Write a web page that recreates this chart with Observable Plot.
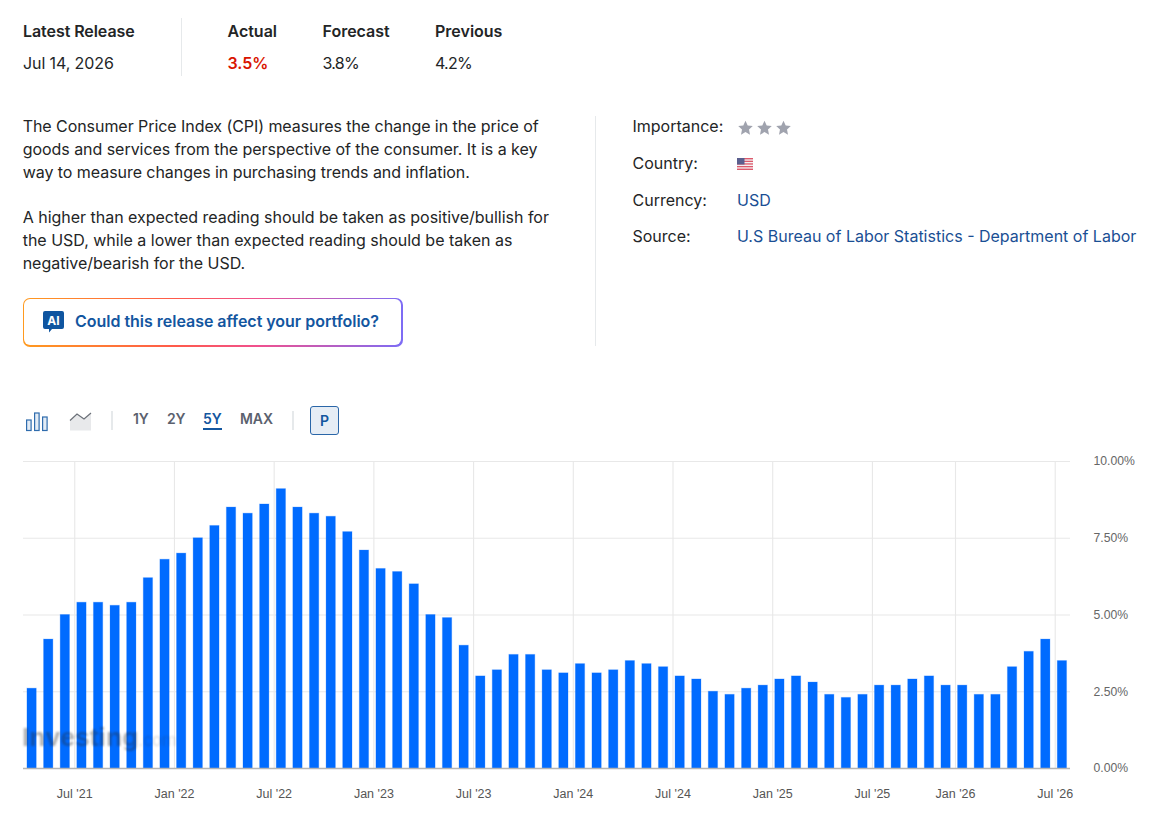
<!DOCTYPE html>
<html><head><meta charset="utf-8">
<script src="https://cdn.jsdelivr.net/npm/d3@7"></script>
<script src="https://cdn.jsdelivr.net/npm/@observablehq/plot@0.6"></script>
<style>
html,body{margin:0;padding:0;background:#fff;width:1155px;height:817px;overflow:hidden}
body{position:relative;font-family:Inter,"Noto Sans",sans-serif;font-size:16px;color:#232526}
.t{position:absolute;white-space:nowrap;line-height:24px}
.b{font-weight:600}
.link{color:#1a4f94}
.tb{position:absolute;white-space:nowrap;font-size:14px;font-weight:600;line-height:20px;color:#5b616e;top:409px;letter-spacing:-.1px}
.div{position:absolute;background:#e6e9eb}
#chart{position:absolute;left:0;top:440px}
#chart svg{display:block}
#wm{position:absolute;left:22px;top:719px;font-family:"Liberation Sans",Arial,sans-serif;font-weight:700;font-size:26.5px;line-height:36px;color:rgba(40,40,40,.36);filter:blur(1px);white-space:nowrap;pointer-events:none}
#wm span{font-weight:400;font-size:17.5px;color:rgba(40,40,40,.16)}
#btn{position:absolute;left:23px;top:298px;width:379.5px;height:48.5px;box-sizing:border-box;border-radius:7px;padding:1.2px;background:linear-gradient(90deg,#ff9a1f 0%,#ff5a4a 40%,#f0508f 62%,#7d6cf5 100%)}
#btn div{width:100%;height:100%;background:#fff;border-radius:6px}
</style></head><body>
<div class="t b" style="left:23px;top:19px;letter-spacing:-.07px">Latest Release</div>
<div class="t" style="left:23px;top:51px;letter-spacing:-.1px">Jul 14, 2026</div>
<div class="div" style="left:181px;top:18px;width:1px;height:58px"></div>
<div class="t b" style="left:227.5px;top:19px">Actual</div>
<div class="t b" style="left:227.5px;top:51px;color:#d91400">3.5%</div>
<div class="t b" style="left:322.5px;top:19px">Forecast</div>
<div class="t" style="left:322.5px;top:51px;letter-spacing:-.7px">3.8%</div>
<div class="t b" style="left:435px;top:19px">Previous</div>
<div class="t" style="left:435px;top:51px;letter-spacing:-.7px">4.2%</div>

<div class="t" style="left:22.7px;top:114px;letter-spacing:-.06px">The Consumer Price Index (CPI) measures the change in the price of</div>
<div class="t" style="left:22.7px;top:137px;letter-spacing:-.045px">goods and services from the perspective of the consumer. It is a key</div>
<div class="t" style="left:22.7px;top:160px;letter-spacing:-.055px">way to measure changes in purchasing trends and inflation.</div>
<div class="t" style="left:22.7px;top:205px;letter-spacing:-.02px">A higher than expected reading should be taken as positive/bullish for</div>
<div class="t" style="left:22.7px;top:228px;letter-spacing:-.01px">the USD, while a lower than expected reading should be taken as</div>
<div class="t" style="left:22.7px;top:251px;letter-spacing:-.02px">negative/bearish for the USD.</div>

<div id="btn"><div></div></div>
<svg style="position:absolute;left:43px;top:311px" width="21" height="22" viewBox="0 0 21 22"><path d="M2 0h17a2 2 0 0 1 2 2v14a2 2 0 0 1-2 2H9l-3 3.5V18H2a2 2 0 0 1-2-2V2a2 2 0 0 1 2-2z" fill="#0f55a0"/><text x="10.5" y="14" text-anchor="middle" font-family="Inter" font-weight="700" font-size="12" fill="#fff">AI</text></svg>
<div class="t" style="left:75px;top:309px;font-weight:600;color:#13569f;letter-spacing:-.02px">Could this release affect your portfolio?</div>

<div class="div" style="left:595px;top:116px;width:1px;height:230px"></div>
<div class="t" style="left:632.5px;top:114px">Importance:</div>
<svg style="position:absolute;left:738px;top:120px" width="54" height="16" viewBox="0 0 54 16" fill="#a0a3ae"><path id="s" d="M7.5 .8l2.2 4.7 5.1 .6-3.8 3.5 1 5.1-4.5-2.6-4.5 2.6 1-5.1L.2 6.100l5.100-.6z"/><use href="#s" x="19"/><use href="#s" x="38"/></svg>
<div class="t" style="left:632.5px;top:151px">Country:</div>
<svg style="position:absolute;left:737px;top:158px" width="16" height="12" viewBox="0 0 16 12"><rect width="16" height="12" fill="#f4f0f2"/><g fill="#dc5a6c"><rect width="16" height="1.4"/><rect y="2.7" width="16" height="1.300"/><rect y="5.3" width="16" height="1.300"/><rect y="8" width="16" height="1.300"/><rect y="10.600" width="16" height="1.400"/></g><rect width="7.500" height="6.500" fill="#5a5f8e"/></svg>
<div class="t" style="left:632.5px;top:188px">Currency:</div>
<div class="t link" style="left:737px;top:188px">USD</div>
<div class="t" style="left:632.5px;top:224px">Source:</div>
<div class="t link" style="left:737px;top:224px">U.S Bureau of Labor Statistics - Department of Labor</div>

<svg style="position:absolute;left:25px;top:411px" width="24" height="21" viewBox="0 0 24 21" fill="#e3ecf5" stroke="#2f6cad" stroke-width="1.200"><rect x="1.600" y="9" width="4.500" height="10.500"/><rect x="9.600" y="2" width="4.500" height="17.500"/><rect x="17.600" y="6" width="4.500" height="13.500"/></svg>
<svg style="position:absolute;left:69px;top:411px" width="23" height="21" viewBox="0 0 23 21"><path d="M1 9.500L8 3l7 5 7-6v17.500H1z" fill="#e8e9eb"/><path d="M1 9.500L8 3l7 5 7-6" fill="none" stroke="#6b7078" stroke-width="1.200"/></svg>
<div class="div" style="left:111px;top:411px;width:2px;height:19px"></div>
<div class="tb" style="left:133px">1Y</div>
<div class="tb" style="left:167px">2Y</div>
<div class="tb" style="left:203px;color:#13569f;">5Y</div>
<div class="div" style="left:203px;top:428px;width:19px;height:1.500px;background:#13569f"></div>
<div class="tb" style="left:240px">MAX</div>
<div class="div" style="left:292px;top:411px;width:2px;height:19px"></div>
<div class="tb" style="left:310px;top:406px;width:29px;height:29px;line-height:27px;box-sizing:border-box;text-align:center;background:#e6edf5;border:1.500px solid #2a66a8;border-radius:3px;color:#13569f">P</div>

<div id="chart"></div>
<div id="wm">Investing<span>.com</span></div>

<script>
// Release month of each bar (October 2025 had no release)
const months = ["Apr '21","May '21","Jun '21","Jul '21","Aug '21","Sep '21","Oct '21","Nov '21","Dec '21",
"Jan '22","Feb '22","Mar '22","Apr '22","May '22","Jun '22","Jul '22","Aug '22","Sep '22","Oct '22","Nov '22","Dec '22",
"Jan '23","Feb '23","Mar '23","Apr '23","May '23","Jun '23","Jul '23","Aug '23","Sep '23","Oct '23","Nov '23","Dec '23",
"Jan '24","Feb '24","Mar '24","Apr '24","May '24","Jun '24","Jul '24","Aug '24","Sep '24","Oct '24","Nov '24","Dec '24",
"Jan '25","Feb '25","Mar '25","Apr '25","May '25","Jun '25","Jul '25","Aug '25","Sep '25","Nov '25","Dec '25",
"Jan '26","Feb '26","Mar '26","Apr '26","May '26","Jun '26","Jul '26"];
const cpi = [2.6,4.2,5.0,5.4,5.4,5.3,5.4,6.2,6.8,
7.0,7.5,7.9,8.5,8.3,8.6,9.1,8.5,8.3,8.2,7.7,7.1,
6.5,6.4,6.0,5.0,4.9,4.0,3.0,3.2,3.7,3.7,3.2,3.1,
3.4,3.1,3.2,3.5,3.4,3.3,3.0,2.9,2.5,2.4,2.6,2.7,
2.9,3.0,2.8,2.4,2.3,2.4,2.7,2.7,2.9,3.0,2.7,
2.7,2.4,2.4,3.3,3.8,4.2,3.5];
const xLabels = ["Jul '21","Jan '22","Jul '22","Jan '23","Jul '23","Jan '24","Jul '24","Jan '25","Jul '25","Jan '26","Jul '26"];
const yTicks = [0,2.5,5,7.5,10];

const rows = months.map((m,i)=>({m,i,v:cpi[i]}));
const xTicks = xLabels.map(l=>months.indexOf(l));
const grid = "#e8e8e8";
const plot = Plot.plot({
  width:1155,height:377,marginLeft:23,marginRight:85,marginTop:21,marginBottom:49,
  style:{fontFamily:"'Liberation Sans',Arial,sans-serif",fontSize:"12px",background:"#fff",overflow:"visible"},
  x:{type:"linear",domain:[-0.084,62.92],label:null},
  y:{domain:[0,10],label:null},
  marks:[
    Plot.ruleY(yTicks.filter(d=>d>0),{stroke:grid,strokeWidth:1.1}),
    Plot.ruleX(xTicks,{y1:0,y2:10,stroke:grid,strokeWidth:1.1}),
    Plot.rect(rows,{x1:"i",x2:d=>d.i+1,y1:0,y2:"v",fill:"#006bff",insetLeft:2.55,insetRight:4.77,stroke:"#006bff",strokeOpacity:.25,strokeWidth:1}),
    Plot.ruleY([0],{stroke:"#b4b4b4",strokeWidth:1.6}),
    Plot.axisX({ticks:xTicks,tickSize:0,tickPadding:21,tickFormat:i=>months[i],fill:"#555",fontSize:12.5}),
    Plot.axisY({anchor:"right",ticks:yTicks,tickSize:0,tickPadding:23,textAnchor:"start",tickFormat:d=>d.toFixed(2)+"%",fill:"#666",fontSize:12.2})
  ]
});
document.getElementById("chart").appendChild(plot);
</script>
</body></html>
